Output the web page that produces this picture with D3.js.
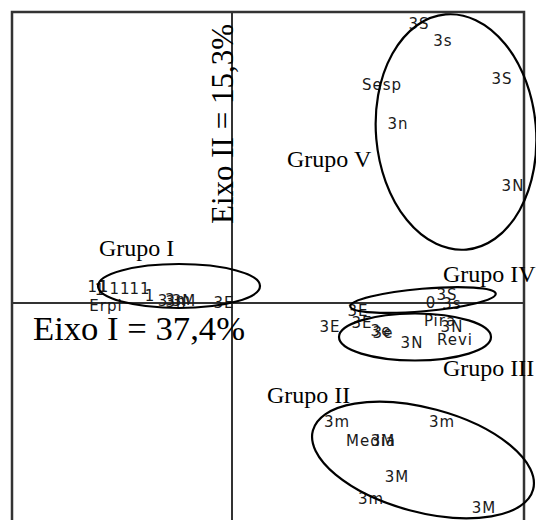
<!DOCTYPE html>
<html><head><meta charset="utf-8">
<script src="https://cdn.jsdelivr.net/npm/d3@7"></script>
<style>
html,body{margin:0;padding:0;background:#fff;}
svg{display:block;}
</style></head>
<body>
<script>
// ---- data (ordination scores, arbitrary units) ----
const pointLabels = [
  // Grupo I
  "11","1","1","11","11","1","3","Erpi","3m","3M","3n","3E",
  // Grupo IV
  "3S","0","3s","3E",
  // Grupo III
  "3E","3E","3e","3e","3N","Pira","3N","Revi",
  // Grupo II
  "3m","3m","Media","3M","3M","3m","3M",
  // Grupo V
  "3S","3s","Sesp","3S","3n","3N"
];
const pointX = [
  -1.34,-1.28,-1.32,-1.12,-0.92,-0.82,-0.69,-1.26,-0.54,-0.48,-0.56,-0.08,
  2.15,1.99,2.20,1.26,
  0.98,1.30,1.49,1.51,1.80,2.08,2.20,2.23,
  1.05,2.10,1.39,1.51,1.65,1.39,2.52,
  1.87,2.11,1.50,2.70,1.66,2.81
];
const pointY = [
  0.16,0.16,0.13,0.14,0.14,0.07,0.02,-0.03,0.03,0.02,0.01,0.00,
  0.08,0.00,-0.01,-0.08,
  -0.24,-0.20,-0.28,-0.30,-0.40,-0.18,-0.24,-0.37,
  -1.19,-1.19,-1.38,-1.38,-1.74,-1.96,-2.05,
  2.79,2.62,2.18,2.24,1.79,1.17
];

const groupNames = ["Grupo I","Grupo II","Grupo III","Grupo IV","Grupo V"];
const groupLabelX = [-1.33, 0.35, 2.11, 2.11, 0.55];
const groupLabelY = [0.47, -1.00, -0.73, 0.21, 1.36];
const ellipseCX = [-0.53, 1.91, 1.83, 1.91, 2.24];
const ellipseCY = [0.17, -1.57, -0.34, 0.03, 1.71];
const ellipseRX = [0.81, 1.14, 0.76, 0.73, 0.80];
const ellipseRY = [0.22, 0.52, 0.235, 0.113, 1.18];
const ellipseAngle = [0, 15, 0, -5, -5];

const axisTitleX = "Eixo I = 37,4%";
const axisTitleY = "Eixo II = 15,3%";

// ---- drawing ----
const W = 536, H = 520;
const svg = d3.select("body").append("svg").attr("width", W).attr("height", H);

const x = d3.scaleLinear().domain([-2.2, 2.92]).range([12, 524]);
const y = d3.scaleLinear().domain([-2.27, 2.91]).range([530, 12]);
const unit = Math.abs(x(1) - x(0));
const unitY = Math.abs(y(1) - y(0));

// frame
svg.append("rect")
  .attr("x", x(-2.2)).attr("y", y(2.91))
  .attr("width", x(2.92) - x(-2.2)).attr("height", y(-2.27) - y(2.91))
  .attr("fill", "none").attr("stroke", "#333").attr("stroke-width", 2.5);

// axes through origin
svg.append("line")
  .attr("x1", x(-2.2)).attr("x2", x(2.92)).attr("y1", y(0)).attr("y2", y(0))
  .attr("stroke", "#333").attr("stroke-width", 2);
svg.append("line")
  .attr("x1", x(0)).attr("x2", x(0)).attr("y1", y(2.91)).attr("y2", y(-2.27))
  .attr("stroke", "#333").attr("stroke-width", 2);

// point labels
svg.append("g").selectAll("text").data(pointLabels).join("text")
  .attr("x", (d, i) => x(pointX[i]))
  .attr("y", (d, i) => y(pointY[i]))
  .attr("dy", "0.36em")
  .attr("text-anchor", "middle")
  .attr("font-family", "DejaVu Sans, sans-serif")
  .attr("font-size", 15)
  .attr("letter-spacing", 1)
  .attr("fill", "#1a1a1a")
  .text(d => d);

// group ellipses
svg.append("g").selectAll("ellipse").data(groupNames).join("ellipse")
  .attr("cx", 0).attr("cy", 0)
  .attr("rx", (d, i) => ellipseRX[i] * unit)
  .attr("ry", (d, i) => ellipseRY[i] * unitY)
  .attr("transform", (d, i) => `translate(${x(ellipseCX[i])},${y(ellipseCY[i])}) rotate(${ellipseAngle[i]})`)
  .attr("fill", "none").attr("stroke", "#000").attr("stroke-width", 2.2);

// group names
svg.append("g").selectAll("text").data(groupNames).join("text")
  .attr("x", (d, i) => x(groupLabelX[i]))
  .attr("y", (d, i) => y(groupLabelY[i]))
  .attr("font-family", "Liberation Serif, Times New Roman, serif")
  .attr("font-size", 24)
  .attr("fill", "#000")
  .text(d => d);

// axis titles
svg.append("text")
  .attr("x", x(-1.99)).attr("y", y(-0.37))
  .attr("font-family", "Liberation Serif, Times New Roman, serif")
  .attr("font-size", 33).attr("fill", "#000")
  .attr("textLength", 212).attr("lengthAdjust", "spacingAndGlyphs")
  .text(axisTitleX);
svg.append("text")
  .attr("transform", `translate(${x(0) + 1},${y(0.79)}) rotate(-90)`)
  .attr("font-family", "Liberation Serif, Times New Roman, serif")
  .attr("font-size", 31).attr("fill", "#000")
  .text(axisTitleY);
</script>
</body></html>
